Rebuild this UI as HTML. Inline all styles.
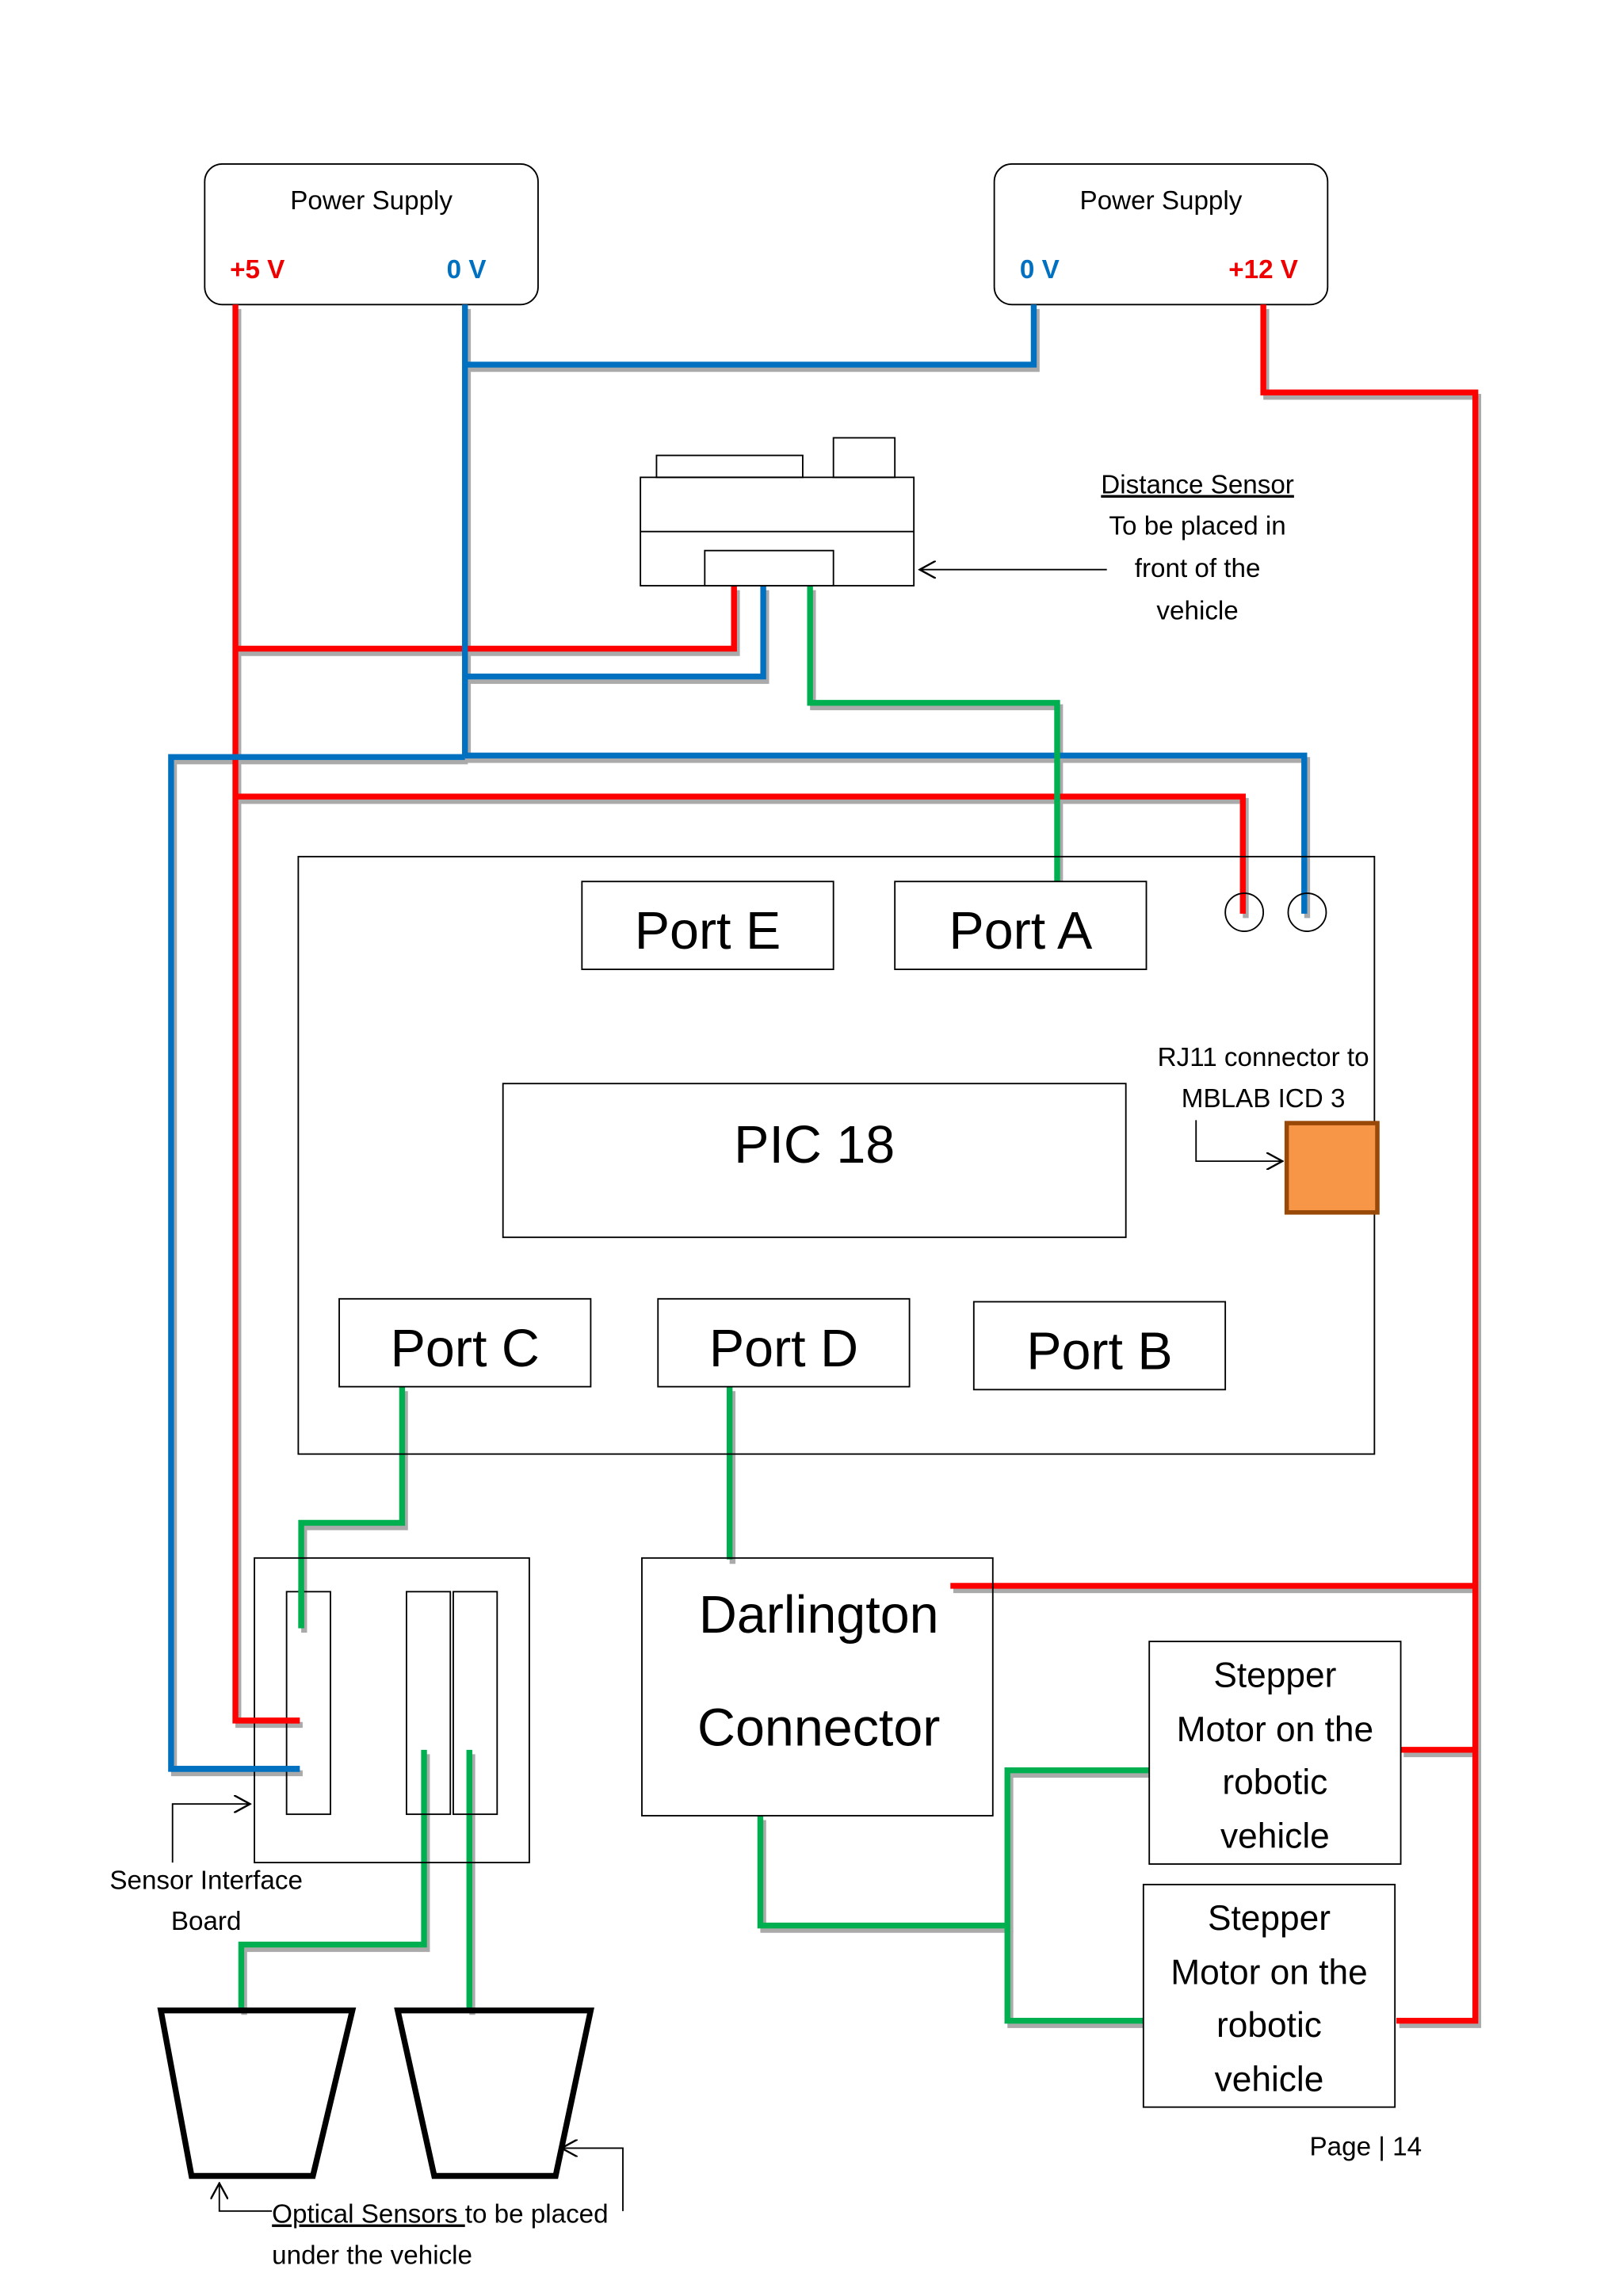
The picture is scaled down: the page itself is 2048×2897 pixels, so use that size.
<!DOCTYPE html>
<html><head><meta charset="utf-8"><style>
html,body{margin:0;padding:0;background:#fff;}
svg{display:block;}
text{font-family:"Liberation Sans",sans-serif;fill:#000;}
</style></head><body>
<svg width="2048" height="2897" viewBox="0 0 1110 1568" preserveAspectRatio="none" xmlns="http://www.w3.org/2000/svg">
<defs>
<marker id="ar" viewBox="0 0 12 12" refX="11" refY="6" markerWidth="12" markerHeight="12" markerUnits="userSpaceOnUse" orient="auto">
<path d="M0,0 L11,6 L0,12" fill="none" stroke="#000" stroke-width="1.3"/></marker>
</defs>
<rect width="1110" height="1568" fill="#fff"/>
<!-- power supplies -->
<rect x="140" y="112" width="228" height="96" rx="12" fill="none" stroke="#000" stroke-width="1"/>
<text x="254" y="143" font-size="18" text-anchor="middle">Power Supply</text>
<text x="176" y="190" font-size="18" font-weight="bold" fill="#e00" style="fill:#e00" text-anchor="middle">+5 V</text>
<text x="319" y="190" font-size="18" font-weight="bold" style="fill:#0070c0" text-anchor="middle">0 V</text>
<rect x="680" y="112" width="228" height="96" rx="12" fill="none" stroke="#000" stroke-width="1"/>
<text x="794" y="143" font-size="18" text-anchor="middle">Power Supply</text>
<text x="711" y="190" font-size="18" font-weight="bold" style="fill:#0070c0" text-anchor="middle">0 V</text>
<text x="864" y="190" font-size="18" font-weight="bold" style="fill:#e00" text-anchor="middle">+12 V</text>

<g fill="none" stroke-width="4" stroke-linejoin="miter">
<!-- shadows -->
<g stroke="#aaa" transform="translate(2,3)">
<polyline points="161,208 161,1175 205,1175"/>
<polyline points="318,208 318,517"/>
<polyline points="318,249 707,249 707,208"/>
<polyline points="864,208 864,268 1009,268 1009,1380 955,1380"/>
<polyline points="1009,1083 650,1083"/>
<polyline points="1009,1195 958,1195"/>
<polyline points="502,400 502,443 161,443"/>
<polyline points="522,400 522,462 318,462"/>
<polyline points="554,400 554,480 723,480 723,602"/>
<polyline points="318,517 117,517 117,1208 205,1208"/>
<polyline points="318,516 892,516 892,624"/>
<polyline points="161,544 850,544 850,624"/>
<polyline points="275,947 275,1040 206,1040 206,1112"/>
<polyline points="499,947 499,1065"/>
<polyline points="290,1195 290,1328 165,1328 165,1373"/>
<polyline points="321,1195 321,1373"/>
<polyline points="520,1240 520,1315 689,1315 689,1209 786,1209"/>
<polyline points="689,1315 689,1380 782,1380"/>
</g>
<g stroke="#ff0000">
<polyline points="161,208 161,1175 205,1175"/>
<polyline points="864,208 864,268 1009,268 1009,1380 955,1380"/>
<polyline points="1009,1083 650,1083"/>
<polyline points="1009,1195 958,1195"/>
<polyline points="502,400 502,443 161,443"/>
<polyline points="161,544 850,544 850,624"/>
</g>
<g stroke="#0070c0">
<polyline points="318,208 318,517"/>
<polyline points="318,249 707,249 707,208"/>
<polyline points="522,400 522,462 318,462"/>
<polyline points="318,517 117,517 117,1208 205,1208"/>
<polyline points="318,516 892,516 892,624"/>
</g>
<g stroke="#00b050">
<polyline points="554,400 554,480 723,480 723,602"/>
<polyline points="275,947 275,1040 206,1040 206,1112"/>
<polyline points="499,947 499,1065"/>
<polyline points="290,1195 290,1328 165,1328 165,1373"/>
<polyline points="321,1195 321,1373"/>
<polyline points="520,1240 520,1315 689,1315 689,1209 786,1209"/>
<polyline points="689,1315 689,1380 782,1380"/>
</g>
</g>

<g fill="none" stroke="#000" stroke-width="1">
<!-- distance sensor -->
<rect x="438" y="326" width="187" height="74" fill="#fff"/>
<line x1="438" y1="363" x2="625" y2="363"/>
<rect x="482" y="376" width="88" height="24" fill="#fff"/>
<rect x="449" y="311" width="100" height="15"/>
<rect x="570" y="299" width="42" height="27"/>
<line x1="757" y1="389" x2="629" y2="389" marker-end="url(#ar)"/>
<!-- board -->
<rect x="204" y="585" width="736" height="408"/>
<rect x="398" y="602" width="172" height="60" fill="#fff"/>
<rect x="612" y="602" width="172" height="60" fill="#fff"/>
<circle cx="851" cy="623" r="13"/>
<circle cx="894" cy="623" r="13"/>
<rect x="344" y="740" width="426" height="105"/>
<polyline points="818,765 818,793 877,793" marker-end="url(#ar)"/>
<rect x="232" y="887" width="172" height="60" fill="#fff"/>
<rect x="450" y="887" width="172" height="60" fill="#fff"/>
<rect x="666" y="889" width="172" height="60" fill="#fff"/>
<!-- sensor board -->
<rect x="174" y="1064" width="188" height="208"/>
<rect x="196" y="1087" width="30" height="152"/>
<rect x="278" y="1087" width="30" height="152"/>
<rect x="310" y="1087" width="30" height="152"/>
<polyline points="118,1272 118,1232 171,1232" marker-end="url(#ar)"/>
<polyline points="426,1510 426,1467 384,1467" marker-end="url(#ar)"/>
<polyline points="186,1510 150,1510 150,1491" marker-end="url(#ar)"/>
<!-- darlington / steppers -->
<rect x="439" y="1064" width="240" height="176"/>
<rect x="786" y="1121" width="172" height="152" fill="#fff"/>
<rect x="782" y="1287" width="172" height="152" fill="#fff"/>
</g>
<rect x="880" y="767" width="62" height="61" fill="#f79646" stroke="#984807" stroke-width="3"/>
<g fill="none" stroke="#000" stroke-width="4">
<polygon points="110,1373 241,1373 214,1486 131,1486"/>
<polygon points="272,1373 404,1373 380,1486 297,1486"/>
</g>
<!-- re-draw sensor-board wire ends over rects -->
<g fill="none" stroke-width="4">
<line x1="161" y1="1175" x2="205" y2="1175" stroke="#ff0000"/>
<line x1="117" y1="1208" x2="205" y2="1208" stroke="#0070c0"/>
<line x1="206" y1="1085" x2="206" y2="1112" stroke="#00b050"/>
</g>

<g font-size="18" text-anchor="middle">
<text x="819" y="337" text-decoration="underline">Distance Sensor</text>
<text x="819" y="365">To be placed in</text>
<text x="819" y="394">front of the</text>
<text x="819" y="423">vehicle</text>
<text x="864" y="728">RJ11 connector to</text>
<text x="864" y="756">MBLAB ICD 3</text>
<text x="141" y="1290">Sensor Interface</text>
<text x="141" y="1318">Board</text>
</g>
<text x="186" y="1518" font-size="18"><tspan text-decoration="underline">Optical Sensors </tspan>to be placed</text>
<text x="186" y="1546" font-size="18">under the vehicle</text>
<text x="934" y="1472" font-size="18" text-anchor="middle">Page | 14</text>
<g font-size="36" text-anchor="middle">
<text x="484" y="648">Port E</text>
<text x="698" y="648">Port A</text>
<text x="557" y="794">PIC 18</text>
<text x="318" y="933">Port C</text>
<text x="536" y="933">Port D</text>
<text x="752" y="935">Port B</text>
<text x="560" y="1115">Darlington</text>
<text x="560" y="1192">Connector</text>
</g>
<g font-size="24" text-anchor="middle">
<text x="872" y="1152">Stepper</text>
<text x="872" y="1189">Motor on the</text>
<text x="872" y="1225">robotic</text>
<text x="872" y="1262">vehicle</text>
<text x="868" y="1318">Stepper</text>
<text x="868" y="1355">Motor on the</text>
<text x="868" y="1391">robotic</text>
<text x="868" y="1428">vehicle</text>
</g>
</svg>
</body></html>
